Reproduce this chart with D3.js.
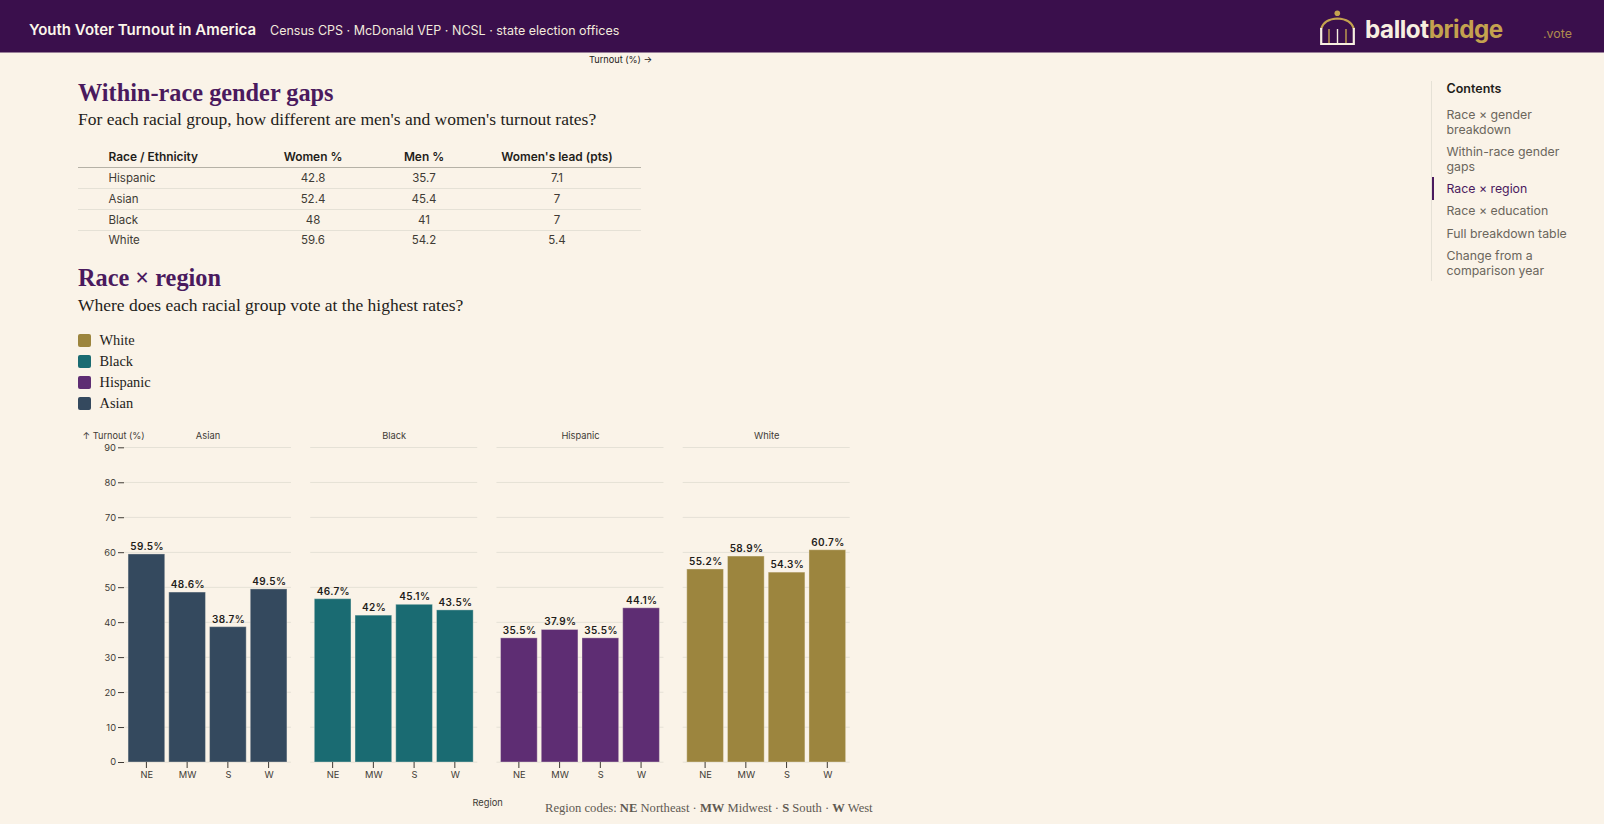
<!DOCTYPE html>
<html>
<head>
<meta charset="utf-8">
<title>Youth Voter Turnout in America</title>
<script src="https://cdn.jsdelivr.net/npm/d3@7"></script>
<style>
  html, body { margin: 0; padding: 0; background: #faf3e8; overflow: hidden; }
  svg { display: block; }
  text { font-family: Inter, "Noto Sans", sans-serif; }
  .serif { font-family: "Liberation Serif", serif; }
</style>
</head>
<body>
<svg id="page" width="1604" height="824"></svg>
<script>
// Turnout by race and region
const races = ["Asian", "Black", "Hispanic", "White"];
const regions = ["NE", "MW", "S", "W"];
const asianTurnout = [59.5, 48.6, 38.7, 49.5];
const blackTurnout = [46.7, 42, 45.1, 43.5];
const hispanicTurnout = [35.5, 37.9, 35.5, 44.1];
const whiteTurnout = [55.2, 58.9, 54.3, 60.7];
const yTicks = [0, 10, 20, 30, 40, 50, 60, 70, 80, 90];
const legendOrder = ["White", "Black", "Hispanic", "Asian"];
const raceColors = ["#34495e", "#1a6b72", "#5e2d73", "#9c853e"];

// Gender gap table
const tableHeader = ["Race / Ethnicity", "Women %", "Men %", "Women's lead (pts)"];
const tableRace = ["Hispanic", "Asian", "Black", "White"];
const tableWomen = [42.8, 52.4, 48, 59.6];
const tableMen = [35.7, 45.4, 41, 54.2];
const tableLead = [7.1, 7, 7, 5.4];

// Sidebar navigation
const tocItems = [
  ["Race × gender", "breakdown"],
  ["Within-race gender", "gaps"],
  ["Race × region"],
  ["Race × education"],
  ["Full breakdown table"],
  ["Change from a", "comparison year"]
];
const tocBaselines = [119, 156, 193, 215, 238, 260];
const activeToc = 2;

const INK = "#1f1d1a", MUTED = "#5f5a52", GRID = "#e5e1d6", PURPLE = "#4a1a5e", GOLD = "#c4a24f";
const svg = d3.select("#page");

function label(parent, x, y, str, opts = {}) {
  return parent.append("text")
    .attr("x", x).attr("y", y)
    .attr("class", opts.serif ? "serif" : null)
    .attr("font-size", opts.size || 12)
    .attr("font-weight", opts.weight || 400)
    .attr("fill", opts.fill || INK)
    .attr("text-anchor", opts.anchor || "start")
    .attr("opacity", opts.opacity || null)
    .style("letter-spacing", opts.spacing || null)
    .text(str);
}

// Top banner
svg.append("rect").attr("width", 1604).attr("height", 52.5).attr("fill", "#3a0f4c");
label(svg, 29, 35, "Youth Voter Turnout in America", { size: 15, weight: 600, fill: "#fbf5ea" });
label(svg, 270, 35, "Census CPS · McDonald VEP · NCSL · state election offices", { size: 12.5, fill: "#f2eadc" });

// Brand mark: domed hall over three columns
const logo = svg.append("g").attr("fill", "none");
logo.append("circle").attr("cx", 1337.3).attr("cy", 13.3).attr("r", 2.8).attr("fill", GOLD);
logo.append("path").attr("d", "M1321 29 Q1324 19 1337.5 18.5 Q1351 19 1354 29").attr("stroke", GOLD).attr("stroke-width", 2);
logo.append("path").attr("d", "M1321.2 28 V44 H1353.8 V28").attr("stroke", "#f7efe0").attr("stroke-width", 2.2);
logo.append("path").attr("d", "M1329 29 V43 M1346 29 V43").attr("stroke", GOLD).attr("stroke-width", 1.4);
logo.append("path").attr("d", "M1337.5 29 V43").attr("stroke", "#f7efe0").attr("stroke-width", 1.4);
const brand = svg.append("text").attr("x", 1365).attr("y", 38).attr("font-size", 24.2).attr("font-weight", 700).style("letter-spacing", "-0.45px");
brand.append("tspan").attr("fill", "#f7efe0").text("ballot");
brand.append("tspan").attr("fill", GOLD).text("bridge");
label(svg, 1543, 38, ".vote", { size: 12.4, fill: GOLD, opacity: 0.85 });

label(svg, 589, 63, "Turnout (%) →", { size: 9.2 });

// Section: gender gaps
label(svg, 78, 101, "Within-race gender gaps", { serif: true, size: 24.3, weight: 700, fill: PURPLE });
label(svg, 78, 125, "For each racial group, how different are men's and women's turnout rates?", { serif: true, size: 17.5 });

const colX = [108.5, 313, 424, 557];
const colAnchor = ["start", "middle", "middle", "middle"];
tableHeader.forEach((h, i) => label(svg, colX[i], 161, h, { size: 11.9, weight: 600, anchor: colAnchor[i] }));
svg.append("line").attr("x1", 78).attr("x2", 641).attr("y1", 167.5).attr("y2", 167.5).attr("stroke", "#b5b1a6");

const rowBaselines = [182, 203, 224, 244];
tableRace.forEach((race, r) => {
  const cells = [race, tableWomen[r], tableMen[r], tableLead[r]];
  cells.forEach((c, i) => label(svg, colX[i], rowBaselines[r], c, { size: 11.5, fill: "#3f3b35", anchor: colAnchor[i] }));
  if (r < tableRace.length - 1) {
    svg.append("line").attr("x1", 78).attr("x2", 641)
      .attr("y1", rowBaselines[r] + 6.5).attr("y2", rowBaselines[r] + 6.5).attr("stroke", GRID);
  }
});

// Section: race by region
label(svg, 78, 286, "Race × region", { serif: true, size: 24.3, weight: 700, fill: PURPLE });
label(svg, 78, 311, "Where does each racial group vote at the highest rates?", { serif: true, size: 17.5 });

const color = d3.scaleOrdinal(races, raceColors);
const legendRow = d3.scaleBand().domain(legendOrder).range([330, 414]);
const legend = svg.append("g").selectAll("g").data(legendOrder).join("g")
  .attr("transform", d => `translate(78,${legendRow(d)})`);
legend.append("rect").attr("y", 4).attr("width", 13).attr("height", 13).attr("rx", 2).attr("fill", d => color(d));
legend.append("text").attr("class", "serif").attr("x", 21.5).attr("y", 14.6)
  .attr("font-size", 14.4).attr("fill", INK).text(d => d);

// Small multiples: one panel per race
const seriesByRace = new Map([
  ["Asian", asianTurnout], ["Black", blackTurnout], ["Hispanic", hispanicTurnout], ["White", whiteTurnout]
]);
const fx = d3.scalePoint().domain(races).range([124, 682.7]);
const panelWidth = 167;
const y = d3.scaleLinear().domain([0, 90]).range([762, 447.3]);
const x = d3.scaleBand().domain(regions).range([0, panelWidth]).paddingInner(0.1).paddingOuter(0.1);

const yAxis = svg.append("g").attr("transform", "translate(124,0)")
  .call(d3.axisLeft(y).tickValues(yTicks).tickSize(6).tickPadding(2));
yAxis.select(".domain").remove();
yAxis.selectAll("text").attr("font-size", 9.3).attr("font-family", "Inter").attr("fill", "#3f3b35");
yAxis.selectAll("line").attr("stroke", "#3f3b35");

label(svg, 82.5, 439, "↑ Turnout (%)", { size: 9.2, fill: "#3f3b35" });

races.forEach(race => {
  const values = seriesByRace.get(race);
  const panel = svg.append("g").attr("transform", `translate(${fx(race)},0)`);

  panel.append("g").selectAll("line").data(yTicks).join("line")
    .attr("x1", 0).attr("x2", panelWidth)
    .attr("y1", d => y(d) + 0.2).attr("y2", d => y(d) + 0.2)
    .attr("stroke", GRID);

  label(panel, panelWidth / 2 + 0.5, 439, race, { size: 9.3, anchor: "middle", fill: "#3f3b35" });

  const bars = panel.append("g").selectAll("g").data(values).join("g");
  bars.append("rect")
    .attr("x", (d, i) => x(regions[i]))
    .attr("width", x.bandwidth())
    .attr("y", d => y(d))
    .attr("height", d => y(0) - y(d))
    .attr("fill", color(race))
    .attr("stroke", "#faf3e8").attr("stroke-opacity", 0.35).attr("stroke-width", 1);
  bars.append("text")
    .attr("x", (d, i) => x(regions[i]) + x.bandwidth() / 2 + 0.7)
    .attr("y", d => y(d) - 4)
    .attr("text-anchor", "middle")
    .attr("font-size", 10).attr("font-weight", 600).attr("fill", INK)
    .style("letter-spacing", "0.35px")
    .text(d => `${d}%`);

  const xAxis = panel.append("g").attr("transform", "translate(0,762)")
    .call(d3.axisBottom(x).tickSize(6).tickPadding(3));
  xAxis.select(".domain").remove();
  xAxis.selectAll("text").attr("font-size", 9.3).attr("font-family", "Inter").attr("fill", "#3f3b35").attr("dx", 0.5);
  xAxis.selectAll("line").attr("stroke", "#3f3b35");
});

label(svg, 472.5, 806, "Region", { size: 9.3, fill: "#3f3b35" });

const codes = svg.append("text").attr("class", "serif").attr("x", 545).attr("y", 812)
  .attr("font-size", 12.6).attr("fill", MUTED);
[["Region codes: ", 0], ["NE", 1], [" Northeast · ", 0], ["MW", 1], [" Midwest · ", 0], ["S", 1], [" South · ", 0], ["W", 1], [" West", 0]]
  .forEach(([t, b]) => codes.append("tspan").attr("font-weight", b ? 700 : 400).text(t));

// Sidebar contents
svg.append("line").attr("x1", 1431.5).attr("x2", 1431.5).attr("y1", 81).attr("y2", 281).attr("stroke", GRID);
svg.append("rect").attr("x", 1432).attr("y", 177).attr("width", 2).attr("height", 23).attr("fill", PURPLE);
label(svg, 1446.5, 93, "Contents", { size: 12.5, weight: 600 });
tocItems.forEach((lines, i) => {
  lines.forEach((line, j) => {
    label(svg, 1446.5, tocBaselines[i] + j * 15, line, { size: 12.3, fill: i === activeToc ? PURPLE : "#6b665c" });
  });
});
</script>
</body>
</html>
